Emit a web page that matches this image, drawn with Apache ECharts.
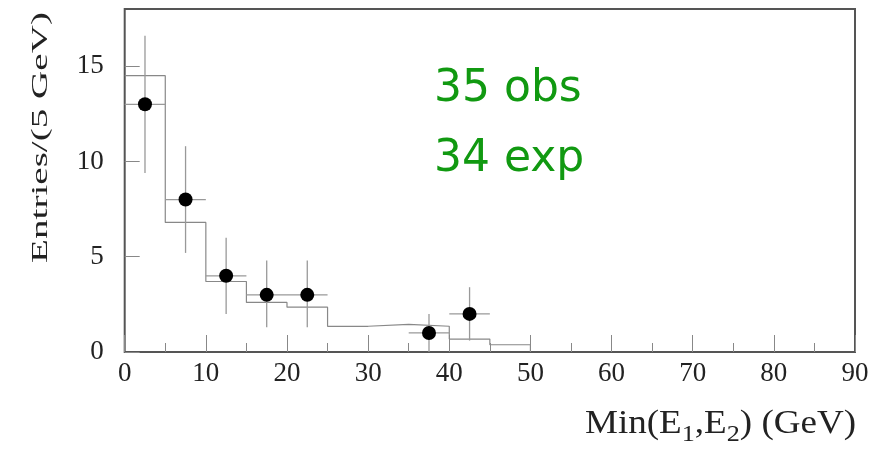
<!DOCTYPE html>
<html><head><meta charset="utf-8">
<script src="https://cdn.jsdelivr.net/npm/echarts@6/dist/echarts.min.js"></script>
<style>html,body{margin:0;padding:0;background:#fff}#c{width:890px;height:449px}</style>
</head><body><div id="c"></div>
<script>
// MC expectation histogram (bin left edges and heights)
const binEdges = [0, 5, 10, 15, 20, 25, 30, 35, 40, 45, 50];
const mcHeights = [14.5, 6.8, 3.7, 2.6, 2.35, 1.35, 1.45, 1.35, 0.68, 0.38];
// observed data points
const pointX = [2.5, 7.5, 12.5, 17.5, 22.5, 37.5, 42.5];
const pointY = [13, 8, 4, 3, 3, 1, 2];
const errHigh = [16.6, 10.8, 6.0, 4.8, 4.8, 2.0, 3.4];
const errLow = [9.4, 5.2, 2.0, 1.3, 1.3, 0, 0.6];
const binWidth = 5;
const xTitle = 'Min(E{s|1},E{s|2}) (GeV)';
const yTitle = 'Entries/(5 GeV)';
const annot = ['35 obs', '34 exp'];

const serif = '"Liberation Serif", "Times New Roman", serif';
const mcData = binEdges.map((e, i) => [e, i < mcHeights.length ? mcHeights[i] : 0]);
const ptData = pointX.map((x, i) => [x, pointY[i]]);
const errData = pointX.map((x, i) => [x, pointY[i], errLow[i], errHigh[i]]);

const chart = echarts.init(document.getElementById('c'), null, {renderer: 'canvas'});
chart.setOption({
  animation: false,
  backgroundColor: '#fff',
  grid: {left: 124.7, top: 9, right: 35, bottom: 97, show: true, borderColor: '#555', borderWidth: 2, backgroundColor: 'transparent'},
  xAxis: {
    type: 'value', min: 0, max: 90, interval: 10,
    axisLine: {show: false},
    splitLine: {show: false},
    axisTick: {show: true, inside: true, length: 17, lineStyle: {color: '#888', width: 1}},
    minorTick: {show: true, splitNumber: 2, length: 9, lineStyle: {color: '#888', width: 1}},
    axisLabel: {margin: 8, fontFamily: serif, fontSize: 27, color: '#222'}
  },
  yAxis: {
    type: 'value', min: 0, max: 18, interval: 5,
    axisLine: {show: false},
    splitLine: {show: false},
    axisTick: {show: true, inside: true, length: 15, lineStyle: {color: '#888', width: 1}},
    axisLabel: {margin: 21, fontFamily: serif, fontSize: 27, color: '#222', showMaxLabel: false,
      formatter: v => (v % 5 === 0 ? String(v) : '')}
  },
  graphic: [
    {type: 'text', x: 41, y: 137.5, rotation: Math.PI / 2, scaleX: 1.7, scaleY: 1,
      style: {text: yTitle, font: '23px ' + serif, fill: '#222', align: 'center', verticalAlign: 'middle'}},
    {type: 'text', x: 585, y: 424, scaleX: 1.09,
      style: {text: xTitle, font: '34px ' + serif, fill: '#222', align: 'left', verticalAlign: 'middle', lineHeight: 46,
        rich: {s: {font: '24px ' + serif, fill: '#222', verticalAlign: 'bottom', lineHeight: 10}}}},
    {type: 'text', x: 434, y: 90, style: {text: annot[0], font: '44px "DejaVu Sans", sans-serif', fill: '#119911', align: 'left', verticalAlign: 'middle'}},
    {type: 'text', x: 434, y: 160, style: {text: annot[1], font: '44px "DejaVu Sans", sans-serif', fill: '#119911', align: 'left', verticalAlign: 'middle'}}
  ],
  series: [
    {type: 'line', data: mcData, step: 'end', symbol: 'none', lineStyle: {color: '#888', width: 1.2}, z: 2},
    {type: 'custom', data: errData, z: 3,
      renderItem(params, api) {
        const x = api.value(0), y = api.value(1), lo = api.value(2), hi = api.value(3);
        const a = api.coord([x, hi]), b = api.coord([x, lo]);
        const l = api.coord([x - binWidth / 2, y]), r = api.coord([x + binWidth / 2, y]);
        const style = {stroke: '#999', lineWidth: 1.3};
        return {type: 'group', children: [
          {type: 'line', shape: {x1: a[0], y1: a[1], x2: b[0], y2: b[1]}, style},
          {type: 'line', shape: {x1: l[0], y1: l[1], x2: r[0], y2: r[1]}, style}
        ]};
      }},
    {type: 'scatter', data: ptData, symbol: 'circle', symbolSize: 14, itemStyle: {color: '#000', opacity: 1}, z: 4}
  ]
});
</script></body></html>
